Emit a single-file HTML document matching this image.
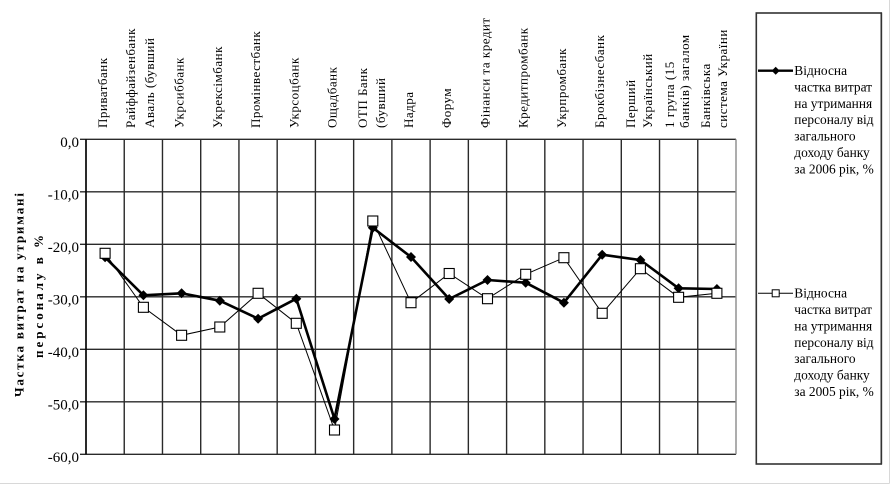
<!DOCTYPE html>
<html>
<head>
<meta charset="utf-8">
<style>
html,body{margin:0;padding:0;background:#fff;}
svg{display:block;}
text{font-family:"Liberation Serif","DejaVu Serif","Noto Serif CJK SC",serif;fill:#000;}
</style>
</head>
<body>
<svg width="891" height="486" viewBox="0 0 891 486" xmlns="http://www.w3.org/2000/svg">
<defs>
<clipPath id="lc"><rect x="756" y="13" width="125.5" height="451"/></clipPath>
</defs>
<rect x="0" y="0" width="891" height="486" fill="#fff"/>
<line x1="0" y1="483.5" x2="889.5" y2="483.5" stroke="#d8d8d8" stroke-width="1"/>
<line x1="889.5" y1="0" x2="889.5" y2="483.5" stroke="#d8d8d8" stroke-width="1"/>

<g stroke="#2a2a2a" stroke-width="1.4">
<line x1="80" y1="139.3" x2="736" y2="139.3"/>
<line x1="80" y1="191.8" x2="736" y2="191.8"/>
<line x1="80" y1="244.3" x2="736" y2="244.3"/>
<line x1="80" y1="296.8" x2="736" y2="296.8"/>
<line x1="80" y1="349.3" x2="736" y2="349.3"/>
<line x1="80" y1="401.8" x2="736" y2="401.8"/>
<line x1="80" y1="454.3" x2="736" y2="454.3"/>
</g>
<g stroke="#2a2a2a" stroke-width="1.4">
<line x1="86" y1="139.3" x2="86" y2="454.3"/>
<line x1="124.24" y1="139.3" x2="124.24" y2="454.3"/>
<line x1="162.47" y1="139.3" x2="162.47" y2="454.3"/>
<line x1="200.71" y1="139.3" x2="200.71" y2="454.3"/>
<line x1="238.94" y1="139.3" x2="238.94" y2="454.3"/>
<line x1="277.18" y1="139.3" x2="277.18" y2="454.3"/>
<line x1="315.41" y1="139.3" x2="315.41" y2="454.3"/>
<line x1="353.65" y1="139.3" x2="353.65" y2="454.3"/>
<line x1="391.88" y1="139.3" x2="391.88" y2="454.3"/>
<line x1="430.12" y1="139.3" x2="430.12" y2="454.3"/>
<line x1="468.35" y1="139.3" x2="468.35" y2="454.3"/>
<line x1="506.59" y1="139.3" x2="506.59" y2="454.3"/>
<line x1="544.82" y1="139.3" x2="544.82" y2="454.3"/>
<line x1="583.06" y1="139.3" x2="583.06" y2="454.3"/>
<line x1="621.29" y1="139.3" x2="621.29" y2="454.3"/>
<line x1="659.53" y1="139.3" x2="659.53" y2="454.3"/>
<line x1="697.76" y1="139.3" x2="697.76" y2="454.3"/>
</g>
<line x1="736" y1="139.3" x2="736" y2="454.3" stroke="#8a8a8a" stroke-width="1.4"/>
<line x1="86" y1="139.3" x2="86" y2="454.3" stroke="#000" stroke-width="1.5"/>

<g font-size="15" text-anchor="end">
<text x="79" y="146.8">0,0</text>
<text x="79" y="199.3">-10,0</text>
<text x="79" y="251.8">-20,0</text>
<text x="79" y="304.3">-30,0</text>
<text x="79" y="356.8">-40,0</text>
<text x="79" y="409.3">-50,0</text>
<text x="79" y="461.8">-60,0</text>
</g>

<g font-size="13" font-weight="bold" text-anchor="middle">
<text transform="translate(23.5,295) rotate(-90)" textLength="204" lengthAdjust="spacing">Частка витрат на утримані</text>
<text transform="translate(43,296.5) rotate(-90)" textLength="123" lengthAdjust="spacing">персоналу в %</text>
</g>

<g font-size="13" letter-spacing="0.5">
<text transform="translate(107,128) rotate(-90)">Приватбанк</text>
<text transform="translate(135,128) rotate(-90)">Райффайзенбанк</text>
<text transform="translate(154,128) rotate(-90)">Аваль (бувший</text>
<text transform="translate(183.6,128) rotate(-90)">Укрсиббанк</text>
<text transform="translate(221.8,128) rotate(-90)">Укрексімбанк</text>
<text transform="translate(260,128) rotate(-90)">Промінвестбанк</text>
<text transform="translate(298.3,128) rotate(-90)">Укрсоцбанк</text>
<text transform="translate(336.5,128) rotate(-90)">Ощадбанк</text>
<text transform="translate(367,128) rotate(-90)">ОТП Банк</text>
<text transform="translate(385,128) rotate(-90)">(бувший</text>
<text transform="translate(413,128) rotate(-90)">Надра</text>
<text transform="translate(451.2,128) rotate(-90)">Форум</text>
<text transform="translate(489.5,128) rotate(-90)">Фінанси та кредит</text>
<text transform="translate(527.7,128) rotate(-90)">Кредитпромбанк</text>
<text transform="translate(566,128) rotate(-90)">Укрпромбанк</text>
<text transform="translate(604.2,128) rotate(-90)">Брокбізнесбанк</text>
<text transform="translate(635,128) rotate(-90)">Перший</text>
<text transform="translate(652,128) rotate(-90)">Український</text>
<text transform="translate(674,128) rotate(-90)">1 група (15</text>
<text transform="translate(689,128) rotate(-90)">банків) загалом</text>
<text transform="translate(710,128) rotate(-90)">Банківська</text>
<text transform="translate(727,128) rotate(-90)">система України</text>
</g>

<polyline fill="none" stroke="#000" stroke-width="2.6" stroke-linejoin="round"
points="105.1,257.3 143.4,295.3 181.6,293.3 219.8,300.7 258.1,318.7 296.3,298.7 334.5,419 372.8,227.7 411,257 449.2,299 487.5,280 525.7,282.7 563.9,302.7 602.2,254.7 640.4,260 678.6,288.3 716.9,289"/>
<g fill="#000">
<path d="M105.1,252.3 l5,5 -5,5 -5,-5z"/>
<path d="M143.4,290.3 l5,5 -5,5 -5,-5z"/>
<path d="M181.6,288.3 l5,5 -5,5 -5,-5z"/>
<path d="M219.8,295.7 l5,5 -5,5 -5,-5z"/>
<path d="M258.1,313.7 l5,5 -5,5 -5,-5z"/>
<path d="M296.3,293.7 l5,5 -5,5 -5,-5z"/>
<path d="M334.5,414 l5,5 -5,5 -5,-5z"/>
<path d="M372.8,222.7 l5,5 -5,5 -5,-5z"/>
<path d="M411,252 l5,5 -5,5 -5,-5z"/>
<path d="M449.2,294 l5,5 -5,5 -5,-5z"/>
<path d="M487.5,275 l5,5 -5,5 -5,-5z"/>
<path d="M525.7,277.7 l5,5 -5,5 -5,-5z"/>
<path d="M563.9,297.7 l5,5 -5,5 -5,-5z"/>
<path d="M602.2,249.7 l5,5 -5,5 -5,-5z"/>
<path d="M640.4,255 l5,5 -5,5 -5,-5z"/>
<path d="M678.6,283.3 l5,5 -5,5 -5,-5z"/>
<path d="M716.9,284 l5,5 -5,5 -5,-5z"/>
</g>

<polyline fill="none" stroke="#000" stroke-width="1"
points="105.1,253.3 143.4,307.3 181.6,335.3 219.8,327 258.1,293.3 296.3,323.3 334.5,430 372.8,221 411,302.7 449.2,273.5 487.5,298.7 525.7,274.3 563.9,257.7 602.2,313.3 640.4,268.7 678.6,297.3 716.9,293.3"/>
<g fill="#fff" stroke="#000" stroke-width="1.1">
<rect x="100.1" y="248.3" width="10" height="10"/>
<rect x="138.4" y="302.3" width="10" height="10"/>
<rect x="176.6" y="330.3" width="10" height="10"/>
<rect x="214.8" y="322" width="10" height="10"/>
<rect x="253.1" y="288.3" width="10" height="10"/>
<rect x="291.3" y="318.3" width="10" height="10"/>
<rect x="329.5" y="425" width="10" height="10"/>
<rect x="367.8" y="216" width="10" height="10"/>
<rect x="406" y="297.7" width="10" height="10"/>
<rect x="444.2" y="268.5" width="10" height="10"/>
<rect x="482.5" y="293.7" width="10" height="10"/>
<rect x="520.7" y="269.3" width="10" height="10"/>
<rect x="558.9" y="252.7" width="10" height="10"/>
<rect x="597.2" y="308.3" width="10" height="10"/>
<rect x="635.4" y="263.7" width="10" height="10"/>
<rect x="673.6" y="292.3" width="10" height="10"/>
<rect x="711.9" y="288.3" width="10" height="10"/>
</g>

<rect x="756.3" y="13" width="125" height="451" fill="#fff" stroke="#333" stroke-width="1.6"/>
<line x1="758" y1="70.7" x2="793" y2="70.7" stroke="#000" stroke-width="2.4"/>
<path d="M775.7,66.7 l4,4 -4,4 -4,-4z" fill="#000"/>
<line x1="758" y1="293.3" x2="793" y2="293.3" stroke="#000" stroke-width="1"/>
<rect x="772.2" y="289.8" width="7" height="7" fill="#fff" stroke="#000" stroke-width="1"/>
<g font-size="13.4" clip-path="url(#lc)">
<text x="794.3" y="75">Відносна</text>
<text x="794.3" y="91.4">частка витрат</text>
<text x="794.3" y="107.8">на утримання</text>
<text x="794.3" y="124.2">персоналу від</text>
<text x="794.3" y="140.6">загального</text>
<text x="794.3" y="157">доходу банку</text>
<text x="794.3" y="173.4">за 2006 рік, %</text>
<text x="794.3" y="297.6">Відносна</text>
<text x="794.3" y="314">частка витрат</text>
<text x="794.3" y="330.4">на утримання</text>
<text x="794.3" y="346.8">персоналу від</text>
<text x="794.3" y="363.2">загального</text>
<text x="794.3" y="379.6">доходу банку</text>
<text x="794.3" y="396">за 2005 рік, %</text>
</g>
<line x1="881.3" y1="13" x2="881.3" y2="464" stroke="#333" stroke-width="1.6"/>
</svg>
</body>
</html>
